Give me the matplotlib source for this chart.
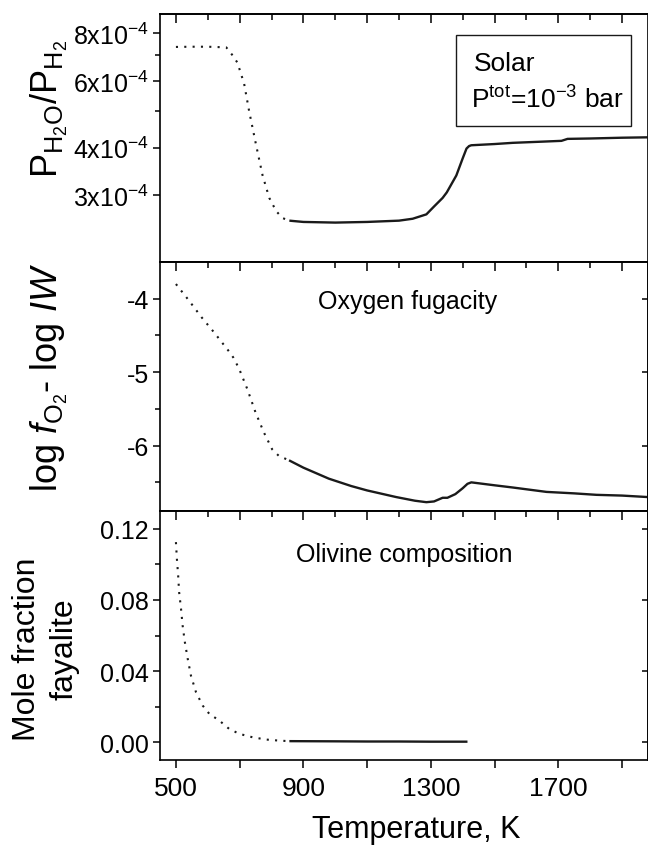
import numpy as np
import matplotlib
matplotlib.use('Agg')
import matplotlib.pyplot as plt
from matplotlib.ticker import FixedLocator, FixedFormatter, NullFormatter
from matplotlib.patches import Rectangle

plt.rcParams['font.family'] = ['Liberation Sans', 'DejaVu Sans']
plt.rcParams['mathtext.fontset'] = 'custom'
plt.rcParams['mathtext.rm'] = 'Liberation Sans'
plt.rcParams['mathtext.it'] = 'Liberation Sans:italic'
plt.rcParams['mathtext.bf'] = 'Liberation Sans:bold'
plt.rcParams['axes.unicode_minus'] = False

# --- top panel: P_H2O / P_H2 ---
t_h2o_dot = [500, 550, 600, 658, 678, 693, 714, 730, 752, 772, 793, 815, 835, 856]
h2o_dot = [7.37e-4, 7.38e-4, 7.38e-4, 7.35e-4, 7.0e-4, 6.7e-4, 5.9e-4, 4.98e-4,
           4.05e-4, 3.38e-4, 2.95e-4, 2.72e-4, 2.61e-4, 2.57e-4]
t_h2o = [856, 900, 1000, 1100, 1200, 1243, 1286, 1310, 1337, 1350, 1380, 1400,
         1412, 1420, 1427, 1500, 1557, 1650, 1710, 1729, 1800, 1900, 1980]
h2o = [2.57e-4, 2.55e-4, 2.54e-4, 2.55e-4, 2.57e-4, 2.6e-4, 2.67e-4, 2.8e-4,
       2.95e-4, 3.05e-4, 3.38e-4, 3.75e-4, 3.98e-4, 4.04e-4, 4.06e-4, 4.09e-4,
       4.12e-4, 4.15e-4, 4.17e-4, 4.22e-4, 4.23e-4, 4.25e-4, 4.26e-4]

# --- middle panel: log fO2 - log IW ---
t_fo2_dot = [500, 540, 580, 620, 667, 680, 698, 724, 750, 776, 802, 823, 855]
fo2_dot = [-3.80, -4.02, -4.25, -4.46, -4.72, -4.80, -4.95, -5.23, -5.55, -5.82,
           -6.05, -6.14, -6.20]
t_fo2 = [855, 900, 980, 1050, 1100, 1191, 1250, 1286, 1310, 1337, 1352, 1377,
         1400, 1415, 1427, 1500, 1557, 1663, 1750, 1820, 1900, 1980]
fo2 = [-6.20, -6.30, -6.45, -6.55, -6.61, -6.70, -6.75, -6.77, -6.76, -6.71,
       -6.71, -6.66, -6.58, -6.52, -6.50, -6.54, -6.57, -6.63, -6.65, -6.67,
       -6.68, -6.70]

# --- bottom panel: mole fraction fayalite ---
t_fa_dot = [500, 503, 507, 510, 516, 521, 528, 537, 547, 563, 584, 605, 636,
            667, 699, 740, 783, 824, 856]
fa_dot = [0.1125, 0.1031, 0.0937, 0.0844, 0.075, 0.0656, 0.0563, 0.0469, 0.0375,
          0.0281, 0.0206, 0.0159, 0.0122, 0.0075, 0.0047, 0.0028, 0.0015,
          0.0009, 0.0006]
t_fa = [856, 1000, 1100, 1200, 1300, 1415]
fa = [0.0006, 0.0005, 0.0004, 0.0004, 0.0003, 0.0003]

x_major = [500, 700, 900, 1100, 1300, 1500, 1700, 1900]
x_labels = ['500', '', '900', '', '1300', '', '1700', '']
x_minor = [600, 800, 1000, 1200, 1400, 1600, 1800]

h2o_ticks = [3e-4, 4e-4, 6e-4, 8e-4]
h2o_labels = [r'$\mathregular{3x10^{-4}}$', r'$\mathregular{4x10^{-4}}$',
              r'$\mathregular{6x10^{-4}}$', r'$\mathregular{8x10^{-4}}$']
h2o_minor = [5e-4, 7e-4]
fo2_ticks = [-6, -5, -4]
fo2_minor = [-6.5, -5.5, -4.5]
fa_ticks = [0.0, 0.04, 0.08, 0.12]
fa_labels = ['0.00', '0.04', '0.08', '0.12']
fa_minor = [0.02, 0.06, 0.10]

W, H = 648, 853
L, R = 160 / W, 647.5 / W


def box(top, bottom):
    return [L, 1 - bottom / H, R - L, (bottom - top) / H]


fig = plt.figure(figsize=(W / 100, H / 100), dpi=100)
ax1 = fig.add_axes(box(15, 263))
ax2 = fig.add_axes(box(263, 512))
ax3 = fig.add_axes(box(512, 761))

dot = dict(color='#1a1a1a', lw=1.5, linestyle=(0, (1, 3)))
solid = dict(color='#1a1a1a', lw=1.7, solid_capstyle='butt')

ax1.plot(t_h2o_dot, h2o_dot, **dot)
ax1.plot(t_h2o, h2o, **solid)
ax2.plot(t_fo2_dot, fo2_dot, **dot)
ax2.plot(t_fo2, fo2, **solid)
ax3.plot(t_fa_dot, fa_dot, **dot)
ax3.plot(t_fa, fa, **solid)

for ax in (ax1, ax2, ax3):
    ax.set_xlim(450, 1980)
    for s in ax.spines.values():
        s.set_linewidth(1.2)
    ax.tick_params(axis='y', which='both', direction='out', left=True,
                   right=False, labelsize=18, width=1.1, pad=3)
    ax.tick_params(axis='y', which='major', length=5)
    ax.tick_params(axis='y', which='minor', length=3.5)
    # inward ticks along the top edge
    sec = ax.secondary_xaxis('top')
    sec.xaxis.set_major_locator(FixedLocator(x_major))
    sec.xaxis.set_minor_locator(FixedLocator(x_minor))
    sec.tick_params(axis='x', which='both', direction='in', labeltop=False,
                    labelbottom=False, width=1.1)
    sec.tick_params(axis='x', which='major', length=6.5)
    sec.tick_params(axis='x', which='minor', length=4.3)
    sec.spines['top'].set_linewidth(1.2)

for ax in (ax1, ax2):
    ax.tick_params(axis='x', which='both', bottom=False, labelbottom=False)

ax3.xaxis.set_major_locator(FixedLocator(x_major))
ax3.xaxis.set_major_formatter(FixedFormatter(x_labels))
ax3.tick_params(axis='x', which='major', direction='out', length=5.5,
                width=1.1, labelsize=19, pad=6)

# top panel y axis (log)
ax1.set_yscale('log')
ax1.set_ylim(2e-4, 9e-4)
ax1.yaxis.set_major_locator(FixedLocator(h2o_ticks))
ax1.yaxis.set_major_formatter(FixedFormatter(h2o_labels))
ax1.yaxis.set_minor_locator(FixedLocator(h2o_minor))
ax1.yaxis.set_minor_formatter(NullFormatter())

ax2.set_ylim(-6.89, -3.5)
ax2.yaxis.set_major_locator(FixedLocator(fo2_ticks))
ax2.yaxis.set_minor_locator(FixedLocator(fo2_minor))

ax3.set_ylim(-0.01, 0.13)
ax3.yaxis.set_major_locator(FixedLocator(fa_ticks))
ax3.yaxis.set_major_formatter(FixedFormatter(fa_labels))
ax3.yaxis.set_minor_locator(FixedLocator(fa_minor))

# short inward ticks on the right edge of the lower panels
for ax, ticks in ((ax2, fo2_ticks), (ax3, fa_ticks)):
    secy = ax.secondary_yaxis('right')
    secy.yaxis.set_major_locator(FixedLocator(ticks))
    secy.tick_params(axis='y', direction='in', length=4, width=1.1,
                     labelright=False, labelleft=False)
    secy.spines['right'].set_linewidth(1.2)

ax1.set_ylabel(r'$\mathregular{P_{H_2O}/P_{H_2}}$', fontsize=26, va='center')
ax1.yaxis.set_label_coords(-0.226, 0.62)
ax2.set_ylabel(r'log $f_{\mathregular{O_2}}$- log $IW$', fontsize=26, va='center')
ax2.yaxis.set_label_coords(-0.226, 0.54)
ax3.set_ylabel('Mole fraction\nfayalite', fontsize=23, va='center',
               multialignment='center', linespacing=1.35)
ax3.yaxis.set_label_coords(-0.234, 0.45)
ax3.set_xlabel('Temperature, K', fontsize=22, va='center')
ax3.xaxis.set_label_coords(0.526, -0.277)

ax2.text(0.507, 0.843, 'Oxygen fugacity', transform=ax2.transAxes,
         ha='center', va='center', fontsize=18)
ax3.text(0.50, 0.827, 'Olivine composition', transform=ax3.transAxes,
         ha='center', va='center', fontsize=18)

ax1.add_patch(Rectangle((0.608, 0.548), 0.359, 0.367, transform=ax1.transAxes,
                        fill=False, lw=1.0, color='#1a1a1a'))
ax1.text(0.643, 0.802, 'Solar', transform=ax1.transAxes, ha='left',
         va='center', fontsize=19)
ax1.text(0.637, 0.657, r'P$^{\mathregular{tot}}$=10$^{\mathregular{-3}}$ bar',
         transform=ax1.transAxes, ha='left', va='center', fontsize=19)

fig.savefig('out.png', dpi=100)
